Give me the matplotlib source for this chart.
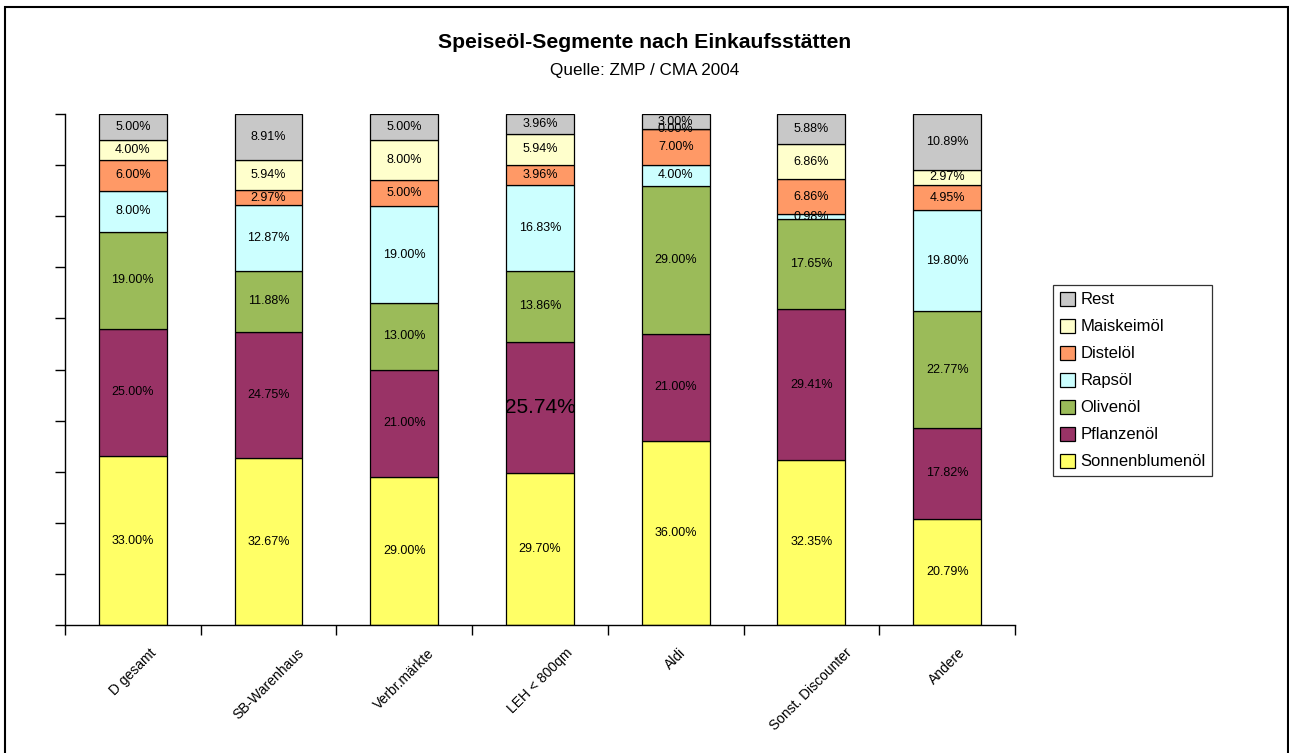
import numpy as np
import matplotlib.pyplot as plt
from matplotlib.patches import Rectangle

plt.rcParams['font.family'] = ['Liberation Sans', 'DejaVu Sans']

# Outlets (categories) and oil segments, shares in percent
categories = ['D gesamt', 'SB-Warenhaus', 'Verbr.märkte', 'LEH < 800qm',
              'Aldi', 'Sonst. Discounter', 'Andere']
segments = ['Sonnenblumenöl', 'Pflanzenöl', 'Olivenöl', 'Rapsöl',
            'Distelöl', 'Maiskeimöl', 'Rest']

sonnenblumenoel = [33.00, 32.67, 29.00, 29.70, 36.00, 32.35, 20.79]
pflanzenoel = [25.00, 24.75, 21.00, 25.74, 21.00, 29.41, 17.82]
olivenoel = [19.00, 11.88, 13.00, 13.86, 29.00, 17.65, 22.77]
rapsoel = [8.00, 12.87, 19.00, 16.83, 4.00, 0.98, 19.80]
disteloel = [6.00, 2.97, 5.00, 3.96, 7.00, 6.86, 4.95]
maiskeimoel = [4.00, 5.94, 8.00, 5.94, 0.00, 6.86, 2.97]
rest = [5.00, 8.91, 5.00, 3.96, 3.00, 5.88, 10.89]

series = [sonnenblumenoel, pflanzenoel, olivenoel, rapsoel,
          disteloel, maiskeimoel, rest]
colors = ['#FFFF66', '#993366', '#9BBB59', '#CCFFFF',
          '#FF9966', '#FFFFCC', '#C8C8C8']

fig = plt.figure(figsize=(12.89, 7.53), dpi=100)
ax = fig.add_axes([65/1289, 1-625/753, (1015-65)/1289, (625-114)/753])

x = np.arange(len(categories))
bottom = np.zeros(len(categories))
for name, vals, col in zip(segments, series, colors):
    vals = np.array(vals)
    ax.bar(x, vals, width=0.5, bottom=bottom, color=col,
           edgecolor='black', linewidth=0.9, label=name)
    for xi, v, b0 in zip(x, vals, bottom):
        # one label in the original is drawn in a much larger font
        big = (name == 'Pflanzenöl' and categories[xi] == 'LEH < 800qm')
        ax.text(xi, b0 + v/2, f'{v:.2f}%', ha='center', va='center',
                fontsize=15 if big else 9, color='black')
    bottom += vals

ax.set_xlim(-0.5, len(categories) - 0.5)
ax.set_ylim(0, 100)

for s in ['top', 'right']:
    ax.spines[s].set_visible(False)
ax.spines['left'].set_linewidth(1.0)
ax.spines['bottom'].set_linewidth(1.0)

ax.set_yticks(np.arange(0, 101, 10))
ax.set_yticklabels([])
ax.tick_params(axis='y', direction='out', length=7.5, width=1.0)

ax.set_xticks(np.arange(len(categories) + 1) - 0.5)
ax.set_xticklabels([])
ax.set_xticks(x, minor=True)
ax.set_xticklabels(categories, minor=True, rotation=45, ha='center',
                   fontsize=10)
ax.tick_params(axis='x', which='major', direction='out', length=7.5, width=1.0)
ax.tick_params(axis='x', which='minor', length=0, pad=15)

fig.text(0.5, 1-43/753, 'Speiseöl-Segmente nach Einkaufsstätten',
         ha='center', va='center', fontsize=15.2, fontweight='bold')
fig.text(0.5, 1-70/753, 'Quelle: ZMP / CMA 2004',
         ha='center', va='center', fontsize=12.3)

handles, labels = ax.get_legend_handles_labels()
leg = fig.legend(handles[::-1], labels[::-1], loc='upper left',
                 bbox_to_anchor=(1053/1289, 1-285/753), borderaxespad=0,
                 fontsize=12, frameon=True, fancybox=False, edgecolor='black',
                 handlelength=0.9, handleheight=0.9, handletextpad=0.35,
                 labelspacing=0.68, borderpad=0.4)
leg.get_frame().set_linewidth(0.9)

fig.patches.append(Rectangle((5/1289, -0.05), (1288-5)/1289, 1.05-7/753,
                             transform=fig.transFigure, fill=False,
                             edgecolor='black', linewidth=1.5))

fig.savefig('out.png', dpi=100)
